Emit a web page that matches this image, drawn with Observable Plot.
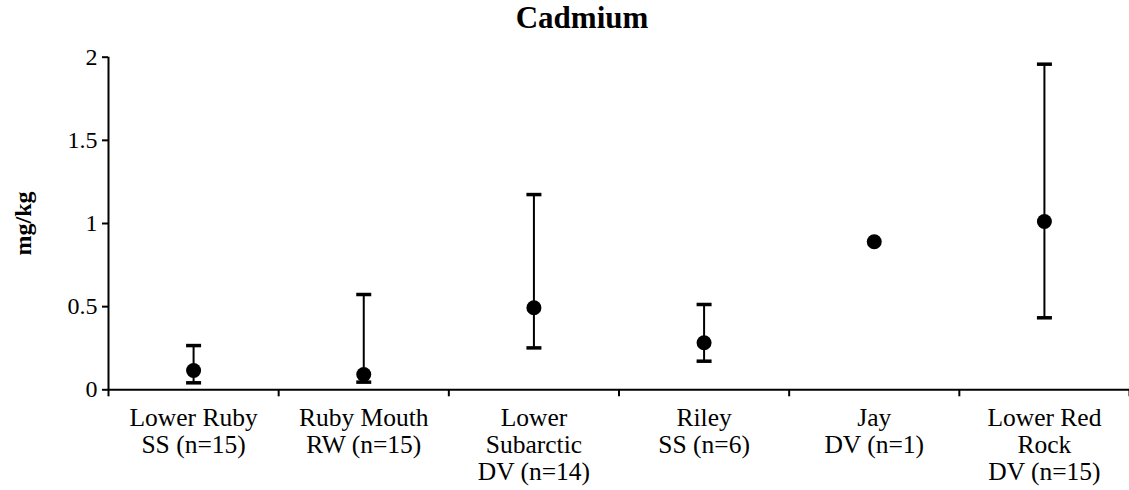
<!DOCTYPE html>
<html>
<head>
<meta charset="utf-8">
<script src="https://cdn.jsdelivr.net/npm/d3@7"></script>
<script src="https://cdn.jsdelivr.net/npm/@observablehq/plot@0.6"></script>
<style>
  html, body { margin: 0; padding: 0; background: #fff; }
  .serif { font-family: "Liberation Serif", "Times New Roman", Tinos, serif; }
  #wrap { width: 1129px; height: 490px; position: relative; }
  #title { position: absolute; left: 582px; top: 0; transform: translateX(-50%); font-size: 31px; font-weight: bold; line-height: 36px; white-space: nowrap; color: #000; }
  #chart { position: absolute; left: 0; top: 40px; }
  #chart svg text { font-family: "Liberation Serif", "Times New Roman", Tinos, serif; }
</style>
</head>
<body class="serif">
<div id="wrap" class="serif">
  <div id="title" class="serif">Cadmium</div>
  <div id="chart" class="serif"></div>
</div>
<script>
const sites = ["Lower Ruby\nSS (n=15)", "Ruby Mouth\nRW (n=15)", "Lower\nSubarctic\nDV (n=14)", "Riley\nSS (n=6)", "Jay\nDV (n=1)", "Lower Red\nRock\nDV (n=15)"];
const means = [0.116, 0.092, 0.493, 0.283, 0.890, 1.012];
const lows  = [0.042, 0.046, 0.252, 0.172, null, 0.433];
const highs = [0.266, 0.573, 1.174, 0.513, null, 1.958];
const yTicks = [0, 0.5, 1, 1.5, 2];
const yLabel = "mg/kg";

const rows = sites.map((s, i) => ({site: s, pos: i + 0.5, mean: means[i], low: lows[i], high: highs[i]}));
const bars = rows.filter(d => d.low != null && d.high != null);
const caps = bars.flatMap(d => [{pos: d.pos, v: d.low}, {pos: d.pos, v: d.high}]);

const capSymbol = {
  draw(ctx, size) {
    const r = Math.sqrt(size / Math.PI);
    ctx.moveTo(-r, 0);
    ctx.lineTo(r, 0);
  }
};

const chart = Plot.plot({
  width: 1129,
  height: 450,
  marginTop: 16.7,
  marginBottom: 100.7,
  marginLeft: 108,
  marginRight: 0,
  style: "font-family: 'Liberation Serif', 'Times New Roman', Tinos, serif; color: #000; background: #fff; overflow: visible;",
  x: {domain: [0, sites.length], axis: null},
  y: {domain: [0, 2], axis: null},
  marks: [
    Plot.ruleY([0], {x1: 0, x2: sites.length, stroke: "#000", strokeWidth: 2}),
    Plot.ruleX([0], {y1: 0, y2: 2, stroke: "#000", strokeWidth: 2}),
    Plot.axisY({ticks: yTicks, tickSize: 6, tickPadding: 5, fontSize: 24, strokeWidth: 2, label: null, tickFormat: d3.format("")}),
    Plot.axisX({ticks: d3.range(0, sites.length + 1), tickSize: 7, tickFormat: () => "", strokeWidth: 2, label: null}),
    Plot.text(rows, {x: "pos", text: "site", frameAnchor: "bottom", dy: 17, lineAnchor: "top", lineHeight: 1.06, fontSize: 25.5, fill: "#000"}),
    Plot.text([yLabel], {text: d => d, frameAnchor: "left", textAnchor: "middle", dx: -85, rotate: -90, fontSize: 24, fontWeight: "bold", fill: "#000"}),
    Plot.ruleX(bars, {x: "pos", y1: "low", y2: "high", stroke: "#000", strokeWidth: 2}),
    Plot.dot(caps, {x: "pos", y: "v", symbol: capSymbol, r: 7.5, stroke: "#000", strokeWidth: 3.5, fill: "none"}),
    Plot.dot(rows, {x: "pos", y: "mean", r: 7.5, fill: "#000", stroke: "none"})
  ]
});
document.getElementById("chart").appendChild(chart);
</script>
</body>
</html>
